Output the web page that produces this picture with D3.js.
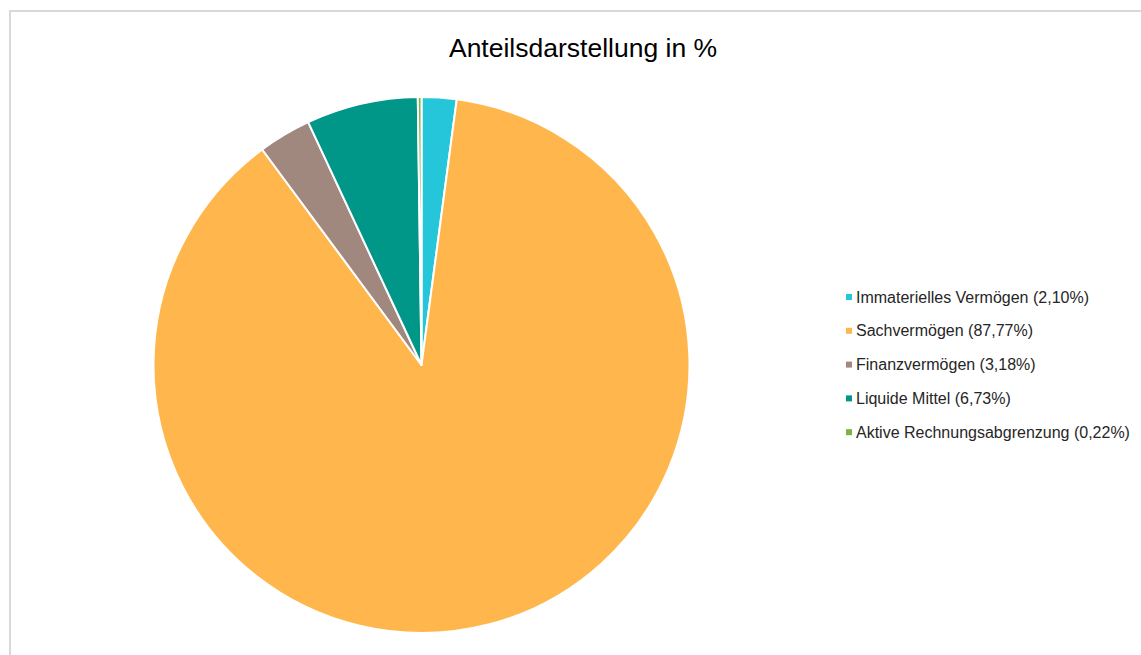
<!DOCTYPE html>
<html>
<head>
<meta charset="utf-8">
<script src="https://cdn.jsdelivr.net/npm/d3@7"></script>
<style>
  body { margin: 0; background: #fff; }
  svg { display: block; font-family: "Liberation Sans", Arial, sans-serif; }
</style>
</head>
<body>
<svg width="1141" height="655"></svg>
<script>
const categories = ["Immaterielles Vermögen", "Sachvermögen", "Finanzvermögen", "Liquide Mittel", "Aktive Rechnungsabgrenzung"];
const values = [2.10, 87.77, 3.18, 6.73, 0.22];
const colors = ["#26c6da", "#ffb74d", "#a1887f", "#009688", "#7cb342"];

const svg = d3.select("svg");

// chart frame
svg.append("rect")
  .attr("x", 10).attr("y", 11)
  .attr("width", 1160).attr("height", 680)
  .attr("fill", "#fff")
  .attr("stroke", "#d9d9d9")
  .attr("stroke-width", 2);

svg.append("text")
  .attr("x", 583).attr("y", 57)
  .attr("text-anchor", "middle")
  .attr("font-size", 26.5)
  .attr("fill", "#000")
  .text("Anteilsdarstellung in %");

const cx = 421.5, cy = 365, r = 268;

const pie = d3.pie().sort(null).value(d => d.value);
const arc = d3.arc().innerRadius(0).outerRadius(r);

const data = categories.map((c, i) => ({ name: c, value: values[i], color: colors[i] }));

const g = svg.append("g").attr("transform", "translate(" + cx + "," + cy + ")");
g.selectAll("path")
  .data(pie(data))
  .enter()
  .append("path")
  .attr("d", arc)
  .attr("fill", d => d.data.color)
  .attr("stroke", "#fff")
  .attr("stroke-width", 2)
  .attr("stroke-linejoin", "round");

const fmt = v => v.toFixed(2).replace(".", ",") + "%";

const legend = svg.append("g").attr("transform", "translate(846,297)");
const item = legend.selectAll("g")
  .data(data)
  .enter()
  .append("g")
  .attr("transform", (d, i) => "translate(0," + (i * 33.8) + ")");

item.append("rect")
  .attr("x", 0).attr("y", -3)
  .attr("width", 6).attr("height", 6)
  .attr("fill", d => d.color);

item.append("text")
  .attr("x", 10).attr("y", 0)
  .attr("dy", "0.35em")
  .attr("font-size", 16)
  .attr("fill", "#262626")
  .text(d => d.name + " (" + fmt(d.value) + ")");
</script>
</body>
</html>
